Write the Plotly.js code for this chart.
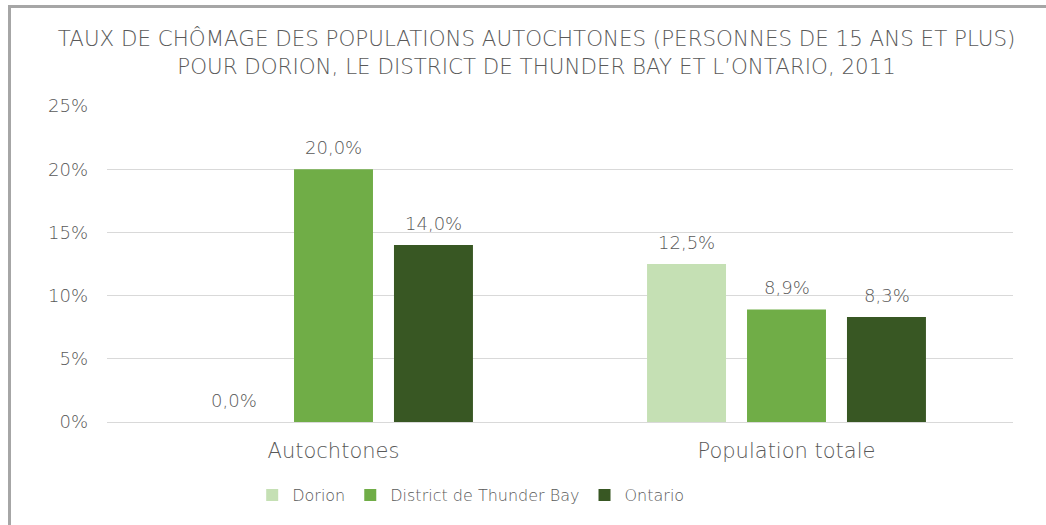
<!DOCTYPE html>
<html>
<head>
<meta charset="utf-8">
<script src="https://cdn.plot.ly/plotly-3.0.1.min.js"></script>
<style>
html,body{margin:0;padding:0;background:#fff;overflow:hidden;}
#chart{position:absolute;left:0;top:0;width:1046px;height:525px;}
#frame{position:absolute;left:8px;top:5px;right:0;bottom:0;border-left:3px solid #a6a6a6;border-top:3px solid #a6a6a6;pointer-events:none;}
</style>
</head>
<body>
<div id="chart"></div>
<div id="frame"></div>
<script>
const categories = ["Autochtones", "Population totale"];
const seriesNames = ["Dorion", "District de Thunder Bay", "Ontario"];
const dorion = [0.0, 12.5];
const thunderBay = [20.0, 8.9];
const ontario = [14.0, 8.3];
const colors = ["#C5E0B4", "#70AD47", "#385723"];
const yTicks = [0, 5, 10, 15, 20, 25];

const font = "'DejaVu Sans', sans-serif";
const gray = "#595959";
const values = [dorion, thunderBay, ontario];

const traces = values.map((v, i) => ({
  type: "bar",
  name: seriesNames[i],
  x: categories,
  y: v,
  marker: {color: colors[i]},
  hoverinfo: "skip"
}));

const slot = 100; // px between bar centres within a group
const annotations = [];
values.forEach((v, i) => {
  v.forEach((val, j) => {
    annotations.push({
      x: categories[j], y: val, xref: "x", yref: "y",
      text: val.toFixed(1).replace(".", ",") + "%",
      showarrow: false, xanchor: "center", yanchor: "middle",
      xshift: (i - 1) * slot, yshift: 22,
      font: {family: font, size: 18, color: gray, weight: 300}
    });
  });
});

const layout = {
  width: 1046, height: 525,
  margin: {l: 107, r: 33, t: 106, b: 103},
  paper_bgcolor: "#fff", plot_bgcolor: "#fff",
  separators: ", ",
  font: {family: font, color: gray, weight: 300},
  title: {
    text: "TAUX DE CHÔMAGE DES POPULATIONS AUTOCHTONES (PERSONNES DE 15 ANS ET PLUS)<br>POUR DORION, LE DISTRICT DE THUNDER BAY ET L’ONTARIO, 2011",
    font: {family: font, size: 21.4, color: gray, weight: 300},
    x: 0.513, xanchor: "center", y: 0.912, yanchor: "middle"
  },
  barmode: "group",
  bargap: 0.338,
  bargroupgap: 0.21,
  xaxis: {
    tickfont: {family: font, size: 21, color: gray, weight: 300},
    showline: true, linecolor: "#d9d9d9", linewidth: 1,
    ticks: "", ticklabelstandoff: 10
  },
  yaxis: {
    range: [0, 25],
    tickvals: yTicks,
    ticktext: yTicks.map(t => t + "%"),
    tickfont: {family: font, size: 18, color: gray, weight: 300},
    gridcolor: "#d9d9d9", gridwidth: 1,
    zeroline: false, showline: false, ticks: "",
    ticklabelstandoff: 18
  },
  annotations: annotations,
  legend: {
    orientation: "h", xref: "container", yref: "container",
    x: 0.45, xanchor: "center", y: 1 - 495 / 525, yanchor: "middle",
    font: {family: font, size: 16, color: gray, weight: 300},
    traceorder: "normal"
  },
  showlegend: true
};

Plotly.newPlot("chart", traces, layout, {displayModeBar: false, staticPlot: true});
</script>
</body>
</html>
